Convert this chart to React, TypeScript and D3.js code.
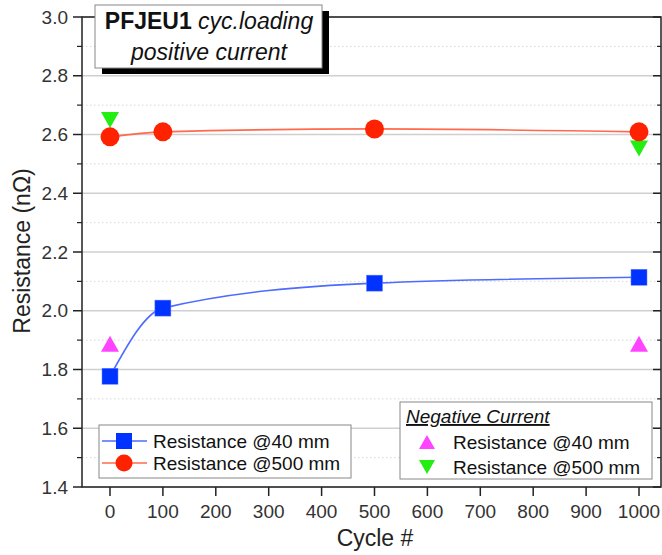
import React from 'react';
import * as d3 from 'd3';

const width = 662;
const height = 555;

const cycles = [0, 100, 500, 1000];
const res40 = [1.777, 2.009, 2.094, 2.114];
const res500 = [2.592, 2.609, 2.619, 2.609];
const negCycles = [0, 1000];
const neg40 = [1.888, 1.888];
const neg500 = [2.649, 2.552];

const xTicks = [0, 100, 200, 300, 400, 500, 600, 700, 800, 900, 1000];
const yTicks = [1.4, 1.6, 1.8, 2.0, 2.2, 2.4, 2.6, 2.8, 3.0];
const yMinor = [1.5, 1.7, 1.9, 2.1, 2.3, 2.5, 2.7, 2.9];

const font = 'Liberation Sans, Arial, sans-serif';

const left = 82;
const right = 661;
const top = 17;
const bottom = 487;

const x = d3.scaleLinear().domain([0, 1000]).range([110, 639]);
const y = d3.scaleLinear().domain([1.4, 3.0]).range([bottom, top]);

const blueLine = '#4d6bff';
const blueMark = '#0033ff';
const redLine = '#ff6a4d';
const redMark = '#ff2200';
const magenta = '#ff44ff';
const green = '#22ee11';

const tri = (cx: number, cy: number, w: number, h: number, up: boolean) =>
  up
    ? `M${cx},${cy - h / 2}L${cx + w / 2},${cy + h / 2}L${cx - w / 2},${cy + h / 2}Z`
    : `M${cx},${cy + h / 2}L${cx + w / 2},${cy - h / 2}L${cx - w / 2},${cy - h / 2}Z`;

const App = () => {
  const line = d3
    .line<number>()
    .x((_, i) => x(cycles[i]))
    .y((d) => y(d))
    .curve(d3.curveMonotoneX);

  return (
    <svg width={width} height={height} style={{ position: 'absolute', left: 0, top: 0 }}>
      <rect width={width} height={height} fill="#fff" />
      {/* grid */}
      {yTicks.map((t) => (
        <line key={'g' + t} x1={left} x2={right} y1={y(t)} y2={y(t)} stroke="#cfcfcf" strokeWidth={1.5} />
      ))}
      {yMinor.map((t) => (
        <line key={'m' + t} x1={left} x2={right} y1={y(t)} y2={y(t)} stroke="#d8d8d8" strokeWidth={1} strokeDasharray="1.5,2.5" />
      ))}

      {/* frame */}
      <rect x={left} y={top} width={right - left} height={bottom - top} fill="none" stroke="#222" strokeWidth={1.5} />

      {/* y ticks */}
      {yTicks.map((t) => (
        <g key={'yt' + t}>
          <line x1={left - 9} x2={left} y1={y(t)} y2={y(t)} stroke="#222" strokeWidth={1.5} />
          <line x1={right - 8} x2={right} y1={y(t)} y2={y(t)} stroke="#222" strokeWidth={1.5} />
          <text x={left - 14} y={y(t)} dy="0.35em" textAnchor="end" fontFamily={font} fontSize={19} fill="#333">
            {t.toFixed(1)}
          </text>
        </g>
      ))}
      {yMinor.map((t) => (
        <g key={'ym' + t}>
          <line x1={left - 5} x2={left} y1={y(t)} y2={y(t)} stroke="#222" strokeWidth={1.2} />
          <line x1={right - 4} x2={right} y1={y(t)} y2={y(t)} stroke="#222" strokeWidth={1.2} />
        </g>
      ))}

      {/* x ticks */}
      {xTicks.map((t) => (
        <g key={'xt' + t}>
          <line x1={x(t)} x2={x(t)} y1={bottom} y2={bottom + 9} stroke="#222" strokeWidth={1.5} />
          <text x={x(t)} y={bottom + 31} textAnchor="middle" fontFamily={font} fontSize={19} fill="#333">
            {t}
          </text>
        </g>
      ))}

      {/* axis titles */}
      <text x={375} y={546} textAnchor="middle" fontFamily={font} fontSize={23} fill="#222">
        Cycle #
      </text>
      <text transform={`translate(30,251) rotate(-90)`} textAnchor="middle" fontFamily={font} fontSize={23} fill="#222">
        Resistance (nΩ)
      </text>

      {/* fitted lines */}
      <path d={line(res40) || ''} fill="none" stroke={blueLine} strokeWidth={1.6} />
      <path d={line(res500) || ''} fill="none" stroke={redLine} strokeWidth={1.6} />

      {/* markers */}
      {negCycles.map((c, i) => (
        <path key={'n5' + c} d={tri(x(c), y(neg500[i]), 18, 16, false)} fill={green} />
      ))}
      {cycles.map((c, i) => (
        <rect key={'s' + c} x={x(c) - 8} y={y(res40[i]) - 8} width={16} height={16} fill={blueMark} stroke="#6680ff" strokeWidth={0.5} />
      ))}
      {cycles.map((c, i) => (
        <circle key={'c' + c} cx={x(c)} cy={y(res500[i])} r={9.5} fill={redMark} />
      ))}
      {negCycles.map((c, i) => (
        <path key={'n4' + c} d={tri(x(c), y(neg40[i]), 18, 16, true)} fill={magenta} />
      ))}

      {/* title box */}
      <rect x={102} y={11} width={227} height={63} fill="#000" />
      <rect x={95} y={5} width={227} height={63} fill="#fff" stroke="#888" strokeWidth={1} />
      <text x={209} y={29} textAnchor="middle" fontFamily={font} fontSize={23} fill="#111">
        <tspan fontWeight="bold">PFJEU1</tspan>
        <tspan fontStyle="italic"> cyc.loading</tspan>
      </text>
      <text x={209} y={60} textAnchor="middle" fontFamily={font} fontSize={23} fontStyle="italic" fill="#111">
        positive current
      </text>

      {/* legend positive */}
      <rect x={99} y={425} width={252} height={53} fill="#fff" stroke="#888" strokeWidth={1} />
      <line x1={102} x2={147} y1={441} y2={441} stroke={blueLine} strokeWidth={1.6} />
      <rect x={116} y={433} width={16} height={16} fill={blueMark} />
      <text x={153} y={441} dy="0.35em" fontFamily={font} fontSize={19} fill="#111">
        Resistance @40 mm
      </text>
      <line x1={102} x2={147} y1={463} y2={463} stroke={redLine} strokeWidth={1.6} />
      <circle cx={124} cy={463} r={8.5} fill={redMark} />
      <text x={153} y={463} dy="0.35em" fontFamily={font} fontSize={19} fill="#111">
        Resistance @500 mm
      </text>

      {/* legend negative */}
      <rect x={400} y={402} width={252} height={77} fill="#fff" stroke="#888" strokeWidth={1} />
      <text x={406} y={423} fontFamily={font} fontSize={19} fontStyle="italic" textDecoration="underline" fill="#111">
        Negative Current
      </text>
      <path d={tri(427, 442, 16, 14, true)} fill={magenta} />
      <text x={453} y={442} dy="0.35em" fontFamily={font} fontSize={19} fill="#111">
        Resistance @40 mm
      </text>
      <path d={tri(427, 467, 16, 14, false)} fill={green} />
      <text x={453} y={467} dy="0.35em" fontFamily={font} fontSize={19} fill="#111">
        Resistance @500 mm
      </text>
    </svg>
  );
};

export default App;
